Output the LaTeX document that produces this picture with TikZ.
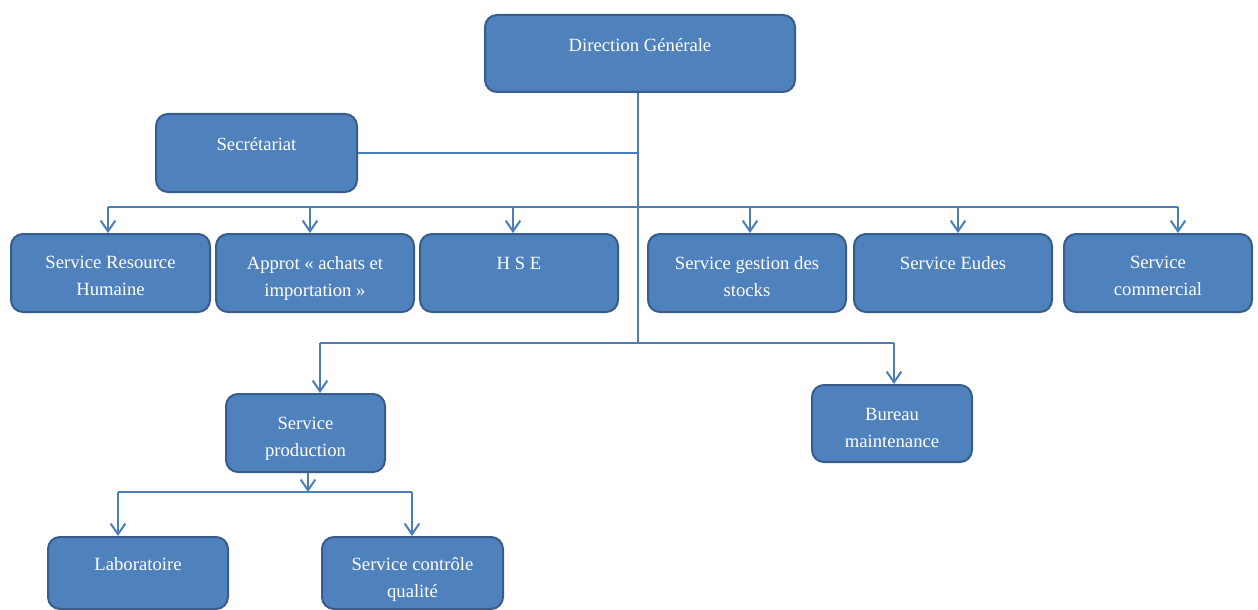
\documentclass[tikz,border=0pt]{standalone}
\usepackage{fontspec}
\setmainfont{Liberation Serif}
\usetikzlibrary{arrows.meta}
\definecolor{boxfill}{HTML}{4F81BD}
\definecolor{boxline}{HTML}{385D8A}
\definecolor{conn}{HTML}{4A7EBB}
\tikzset{
  orgbox/.style n args={2}{draw=boxline, fill=boxfill, line width=1.5pt,
    rounded corners=9pt, minimum width=#1*0.75pt, minimum height=#2*0.75pt,
    inner sep=0pt},
  orgtext/.style={anchor=north, text=white, align=center, inner sep=0pt,
    font=\fontsize{14}{20.3}\selectfont},
  conline/.style={draw=conn, line width=1.5pt},
  conarrow/.style={conline, -{Straight Barb[length=8pt,width=11pt,line width=1.5pt]}},
}
\begin{document}
\begin{tikzpicture}[x=0.75pt,y=-0.75pt]
\useasboundingbox (0,0) rectangle (1258,610);
% boxes
\node[orgbox={310}{77}] (dg)   at (640,53.5) {};
\node[orgbox={201}{78}] (sec)  at (256.5,153) {};
\node[orgbox={199}{78}] (rh)   at (110.5,273) {};
\node[orgbox={198}{78}] (app)  at (315,273) {};
\node[orgbox={198}{78}] (hse)  at (519,273) {};
\node[orgbox={198}{78}] (sto)  at (747,273) {};
\node[orgbox={198}{78}] (eud)  at (953,273) {};
\node[orgbox={188}{78}] (com)  at (1158,273) {};
\node[orgbox={159}{78}] (prod) at (305.5,433) {};
\node[orgbox={160}{77}] (bur)  at (892,423.5) {};
\node[orgbox={180}{72}] (lab)  at (138,573) {};
\node[orgbox={181}{72}] (ctrl) at (412.5,573) {};
% texts
\node[orgtext] (tdg)   at ([yshift=-24*0.75pt]dg.north)   {Direction Générale};
\node[orgtext] (tsec)  at ([yshift=-24*0.75pt]sec.north)  {Secrétariat};
\node[orgtext] (trh)   at ([yshift=-23*0.75pt]rh.north)   {Service Resource\\Humaine};
\node[orgtext] (tapp)  at ([yshift=-23*0.75pt]app.north)  {Approt « achats et\\importation »};
\node[orgtext] (thse)  at ([yshift=-24*0.75pt]hse.north)  {H S E};
\node[orgtext] (tsto)  at ([yshift=-23*0.75pt]sto.north)  {Service gestion des\\stocks};
\node[orgtext] (teud)  at ([yshift=-23*0.75pt]eud.north)  {Service Eudes};
\node[orgtext] (tcom)  at ([yshift=-23*0.75pt]com.north)  {Service\\commercial};
\node[orgtext] (tprod) at ([yshift=-24*0.75pt]prod.north) {Service\\production};
\node[orgtext] (tbur)  at ([yshift=-24*0.75pt]bur.north)  {Bureau\\maintenance};
\node[orgtext] (tlab)  at ([yshift=-21*0.75pt]lab.north)  {Laboratoire};
\node[orgtext] (tctrl) at ([yshift=-21*0.75pt]ctrl.north) {Service contrôle\\qualité};
% connector coordinates
\coordinate (trunk) at (638,343);
\coordinate (b1l) at (108,207);
\coordinate (b1a) at (310,207);
\coordinate (b1h) at (513,207);
\coordinate (b1s) at (750,207);
\coordinate (b1e) at (958,207);
\coordinate (b1r) at (1178,207);
\coordinate (b2l) at (320,343);
\coordinate (b2r) at (894,343);
\coordinate (b3)  at (308,492);
\coordinate (b3l) at (118,492);
\coordinate (b3r) at (412,492);
% connectors
\draw[conline] (trunk |- dg.south) -- (trunk);
\draw[conline] (sec.east) -- (sec.east -| trunk);
\draw[conline] (b1l) -- (b1r);
\draw[conarrow] (b1l) -- (b1l |- rh.north);
\draw[conarrow] (b1a) -- (b1a |- app.north);
\draw[conarrow] (b1h) -- (b1h |- hse.north);
\draw[conarrow] (b1s) -- (b1s |- sto.north);
\draw[conarrow] (b1e) -- (b1e |- eud.north);
\draw[conarrow] (b1r) -- (b1r |- com.north);
\draw[conline] (b2l) -- (b2r);
\draw[conarrow] (b2l) -- (b2l |- prod.north);
\draw[conarrow] (b2r) -- (b2r |- bur.north);
\draw[conarrow] (b3 |- prod.south) -- (b3);
\draw[conline] (b3l) -- (b3r);
\draw[conarrow] (b3l) -- (b3l |- lab.north);
\draw[conarrow] (b3r) -- (b3r |- ctrl.north);
\end{tikzpicture}
\end{document}
